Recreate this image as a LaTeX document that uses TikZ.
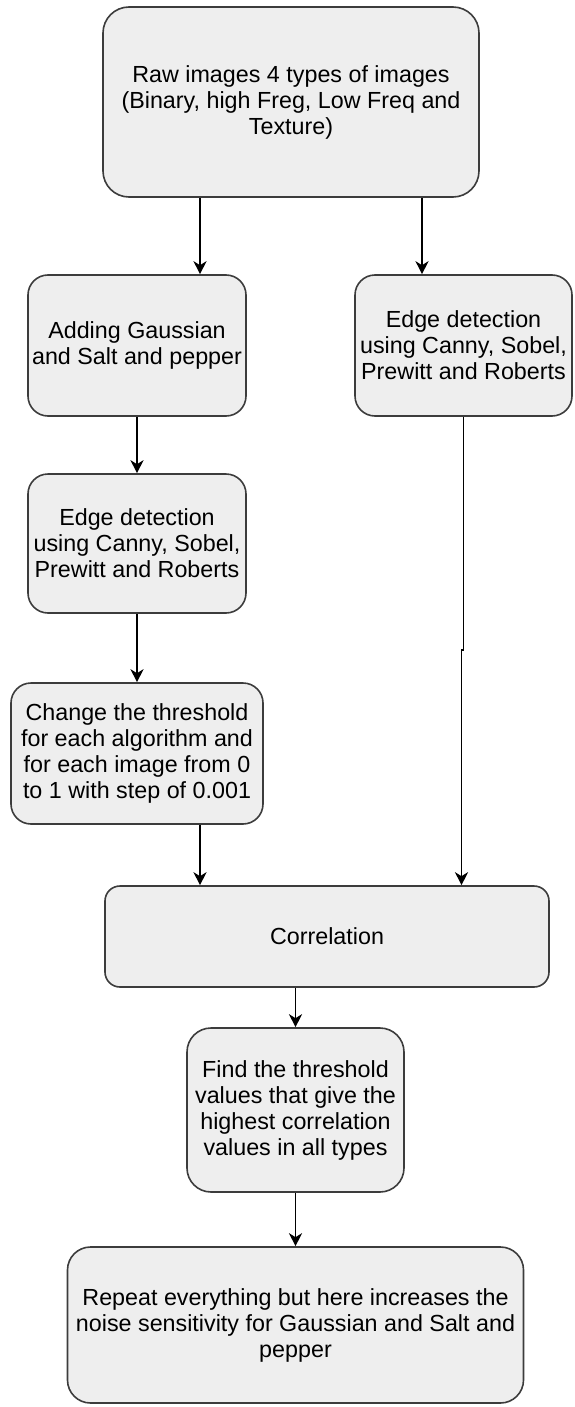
\documentclass[tikz,border=0pt]{standalone}
\usepackage{fontspec}
\setmainfont{Liberation Sans}
\usetikzlibrary{arrows.meta,calc}

\definecolor{boxfill}{RGB}{238,238,238}
\definecolor{boxline}{RGB}{60,60,60}

\tikzset{
  stepbox/.style={draw=boxline, fill=boxfill, line width=1.6pt,
    rectangle, align=center, inner sep=0pt, text=black,
    font=\fontsize{23.3}{26}\selectfont},
  flow/.style={draw=black, line width=1.7pt,
    -{Stealth[length=13pt,width=13pt,inset=4pt]}},
}

\begin{document}
\begin{tikzpicture}[x=1pt, y=-1pt]
  \useasboundingbox (0,0) rectangle (574,1407);

  % process boxes
  \node[stepbox, rounded corners=26pt, minimum width=376pt, minimum height=190pt] (raw) at (291,102)
    {Raw images 4 types of images\\(Binary, high Freg, Low Freq and\\Texture)};
  \node[stepbox, rounded corners=20pt, minimum width=218pt, minimum height=141pt] (add) at (137,345.5)
    {Adding Gaussian\\and Salt and pepper};
  \node[stepbox, rounded corners=20pt, minimum width=217pt, minimum height=141pt] (edr) at (463.5,345.5)
    {Edge detection\\using Canny, Sobel,\\Prewitt and Roberts};
  \node[stepbox, rounded corners=20pt, minimum width=218pt, minimum height=139pt] (edl) at (137,543.5)
    {Edge detection\\using Canny, Sobel,\\Prewitt and Roberts};
  \node[stepbox, rounded corners=20pt, minimum width=252pt, minimum height=141pt] (chg) at (137,753.5)
    {Change the threshold\\for each algorithm and\\for each image from 0\\to 1 with step of 0.001};
  \node[stepbox, rounded corners=15pt, minimum width=444pt, minimum height=101pt] (corr) at (327,936.5)
    {Correlation};
  \node[stepbox, rounded corners=24pt, minimum width=217pt, minimum height=164pt] (find) at (295.5,1110)
    {Find the threshold\\values that give the\\highest correlation\\values in all types};
  \node[stepbox, rounded corners=23pt, minimum width=456pt, minimum height=156pt] (rep) at (295.5,1325)
    {Repeat everything but here increases the\\noise sensitivity for Gaussian and Salt and\\pepper};

  % connector guides
  \coordinate (xa) at (200,0);
  \coordinate (xb) at (422,0);
  \coordinate (xc) at (463.5,0);
  \coordinate (jog) at (463.5,650);
  \coordinate (jog2) at (461.5,650);

  % connectors
  \draw[flow] (raw.south -| xa) -- (add.north -| xa);
  \draw[flow] (raw.south -| xb) -- (edr.north -| xb);
  \draw[flow] (add) -- (edl);
  \draw[flow] (edl) -- (chg);
  \draw[flow] (chg.south -| xa) -- (corr.north -| xa);
  \draw[flow] (edr.south -| xc) -- (jog) -- (jog2) -- (corr.north -| jog2);
  \draw[flow] (corr.south -| find) -- (find.north);
  \draw[flow] (find) -- (rep);
\end{tikzpicture}
\end{document}
